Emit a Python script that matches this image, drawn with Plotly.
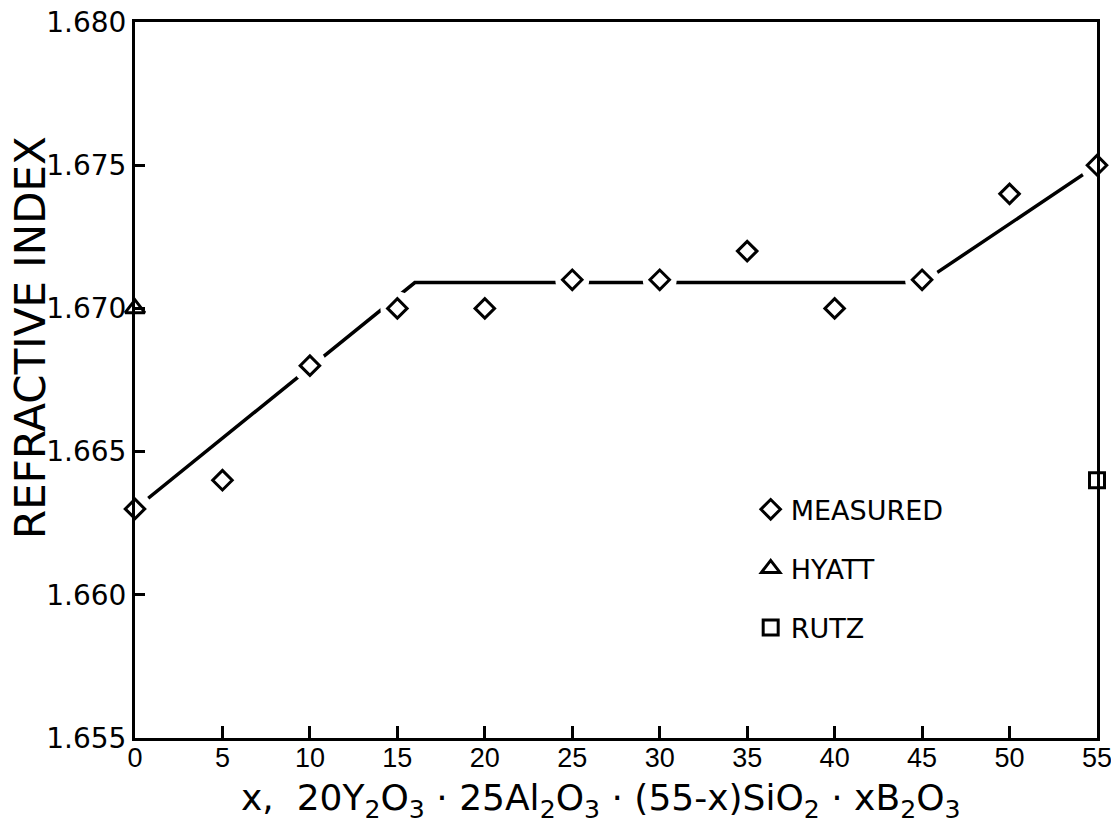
import plotly.graph_objects as go

# Data
meas_x = [0, 5, 10, 15, 20, 25, 30, 35, 40, 45, 50, 55]
meas_y = [1.663, 1.664, 1.668, 1.670, 1.670, 1.671, 1.671, 1.672, 1.670, 1.671, 1.674, 1.675]
hyatt_x = [0]
hyatt_y = [1.670]
rutz_x = [55]
rutz_y = [1.664]
fit_x = [0, 16, 45, 55]
fit_y = [1.663, 1.6709, 1.6709, 1.675]
x_ticks = [0, 5, 10, 15, 20, 25, 30, 35, 40, 45, 50, 55]
y_ticks = [1.655, 1.660, 1.665, 1.670, 1.675, 1.680]
y_ticklabels = ["1.655", "1.660", "1.665", "1.670", "1.675", "1.680"]
x_title = "x,  20Y<sub>2</sub>O<sub>3</sub> · 25Al<sub>2</sub>O<sub>3</sub> · (55-x)SiO<sub>2</sub> · xB<sub>2</sub>O<sub>3</sub>"
y_title = "REFRACTIVE INDEX"

FONT = "DejaVu Sans"
W, H = 1111, 833
ML, MT = 135, 22
PW, PH = 962, 716

fig = go.Figure()
fig.add_trace(go.Scatter(x=fit_x, y=fit_y, mode="lines",
                         line=dict(color="black", width=3.5),
                         showlegend=False, hoverinfo="skip"))
# white halo creating the pen-plotter gaps around markers
fig.add_trace(go.Scatter(x=meas_x, y=meas_y, mode="markers",
                         marker=dict(symbol="circle", size=34, color="white",
                                     line=dict(width=0)),
                         showlegend=False, hoverinfo="skip"))
fig.add_trace(go.Scatter(x=meas_x, y=meas_y, mode="markers", name="MEASURED",
                         legendgroup="a", cliponaxis=False,
                         marker=dict(symbol="diamond", size=15, color="white",
                                     line=dict(color="black", width=3))))
fig.add_trace(go.Scatter(x=hyatt_x, y=hyatt_y, mode="markers", name="HYATT",
                         legendgroup="b", cliponaxis=False,
                         marker=dict(symbol="triangle-up", size=17, color="white",
                                     line=dict(color="black", width=3))))
fig.add_trace(go.Scatter(x=rutz_x, y=rutz_y, mode="markers", name="RUTZ",
                         legendgroup="c", cliponaxis=False,
                         marker=dict(symbol="square", size=15, color="white",
                                     line=dict(color="black", width=3))))

fig.update_layout(
    width=W, height=H,
    margin=dict(l=ML, r=W - ML - PW, t=MT, b=H - MT - PH),
    paper_bgcolor="white", plot_bgcolor="white",
    font=dict(family=FONT, size=28, color="black"),
    legend=dict(x=0.64, y=0.353, xanchor="left", yanchor="top",
                bgcolor="rgba(0,0,0,0)", tracegroupgap=21,
                font=dict(family=FONT, size=27, color="black")),
    annotations=[
        dict(text=x_title, xref="paper", yref="paper",
             x=(601 - ML) / PW, y=-(800 - MT - PH) / PH,
             xanchor="center", yanchor="middle", showarrow=False,
             font=dict(family=FONT, size=36, color="black")),
        dict(text=y_title, xref="paper", yref="paper", textangle=-90,
             x=-(ML - 30) / PW, y=(MT + PH - 338) / PH,
             xanchor="center", yanchor="middle", showarrow=False,
             font=dict(family=FONT, size=42, color="black")),
    ],
)
fig.update_xaxes(
    range=[0, 55], tickvals=x_ticks, ticks="inside", ticklen=12, tickwidth=3,
    tickcolor="black", showline=True, linecolor="black", linewidth=3,
    mirror=True, showgrid=False, zeroline=False, automargin=False,
    ticklabelstandoff=-6, ticklabeloverflow="allow",
    tickfont=dict(family="Liberation Sans", size=27),
)
fig.update_yaxes(
    range=[1.655, 1.680], tickvals=y_ticks, ticktext=y_ticklabels,
    ticks="inside", ticklen=10, tickwidth=3,
    tickcolor="black", showline=True, linecolor="black", linewidth=3,
    mirror=True, showgrid=False, zeroline=False, automargin=False,
    ticklabeloverflow="allow",
)

fig.write_html("out.html",
               config={"displayModeBar": False},
               post_script="document.body.style.margin='0';")
